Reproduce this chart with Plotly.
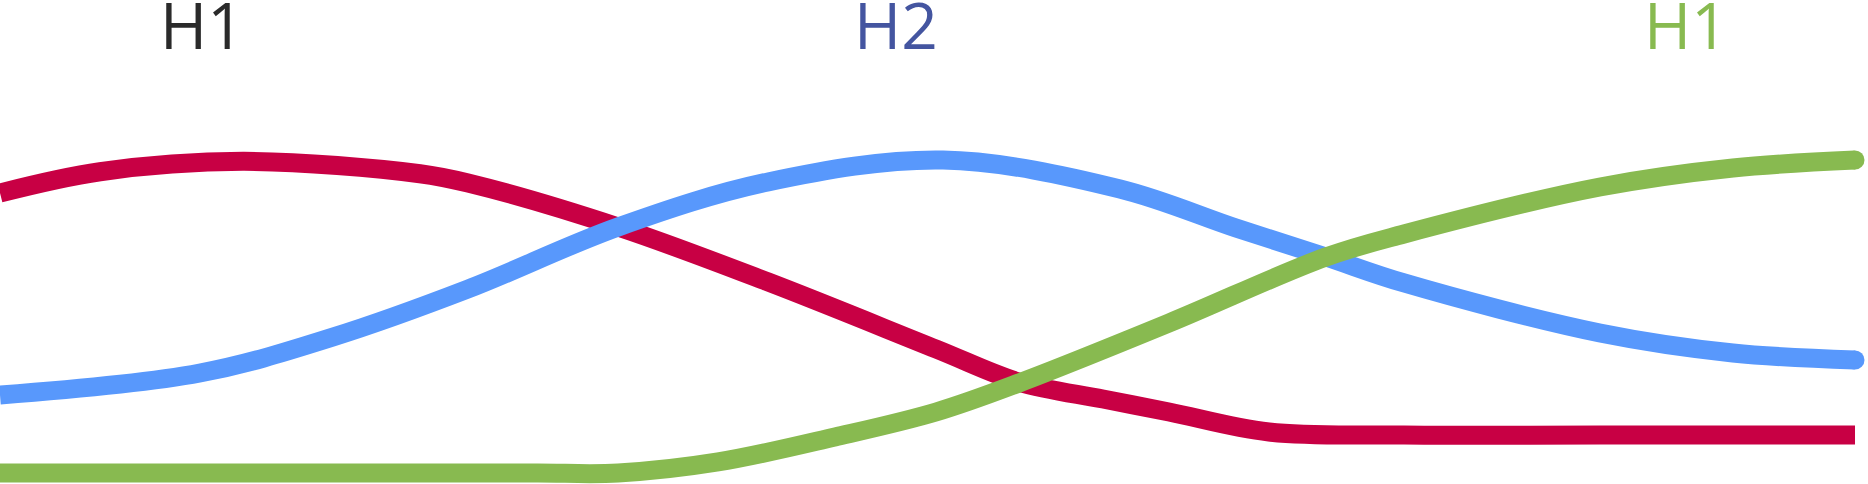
import plotly.graph_objects as go

# readings: position along the chart (0-100) and level (0-100, top = 100)
red_x = [0, 5.39, 13.10, 22.64, 25.23, 33.32, 41.40, 50.46, 54.93, 59.46, 63.02, 68.41, 75.69, 86.25, 100]
red_y = [60.12, 64.52, 66.67, 64.11, 62.19, 53.10, 41.74, 27.89, 21.07, 17.56, 14.88, 10.74, 10.12, 10.12, 10.12]

blue_x = [0, 10.78, 17.95, 25.23, 33.32, 41.40, 50.84, 60.38, 66.63, 71.48, 75.69, 86.25, 93.42, 100]
blue_y = [18.39, 22.93, 30.37, 40.29, 53.10, 62.40, 66.94, 60.95, 52.89, 46.90, 41.53, 31.20, 27.07, 25.62]

green_x = [0, 8.0, 16.0, 24.0, 29.0, 33.32, 38.71, 45.01, 50.46, 54.93, 63.02, 71.48, 75.69, 86.25, 93.42, 100]
green_y = [2.27, 2.27, 2.27, 2.27, 2.27, 2.27, 4.55, 9.71, 14.88, 20.87, 33.26, 46.90, 51.65, 61.36, 65.29, 66.94]

labels = ["H1", "H2", "H1"]
label_x = [10.9, 48.3, 90.9]
label_colors = ["#2a2a2a", "#4455a0", "#88ba50"]

RED = "#c80044"
BLUE = "#5898fc"
GREEN = "#88ba50"

fig = go.Figure()

fig.add_trace(go.Scatter(x=red_x, y=red_y, mode="lines",
                         line=dict(color=RED, width=19, shape="spline", smoothing=1)))
fig.add_trace(go.Scatter(x=blue_x, y=blue_y, mode="lines",
                         line=dict(color=BLUE, width=19, shape="spline", smoothing=1)))
fig.add_trace(go.Scatter(x=green_x, y=green_y, mode="lines",
                         line=dict(color=GREEN, width=19, shape="spline", smoothing=1)))

# round ends for blue and green
fig.add_trace(go.Scatter(x=[blue_x[-1], green_x[-1]], y=[blue_y[-1], green_y[-1]], mode="markers",
                         marker=dict(size=19, color=[BLUE, GREEN], line=dict(width=0)),
                         cliponaxis=False))

for t, lx, c in zip(labels, label_x, label_colors):
    fig.add_annotation(x=lx, y=1, xref="x", yref="paper", text=t, showarrow=False,
                       yanchor="top", xanchor="center", yshift=21,
                       font=dict(family="Open Sans", size=64, color=c))

fig.update_layout(
    width=1868, height=484,
    margin=dict(l=0, r=0, t=0, b=0),
    paper_bgcolor="white", plot_bgcolor="white",
    showlegend=False,
    xaxis=dict(visible=False, range=[0, 100.7], fixedrange=True),
    yaxis=dict(visible=False, range=[0, 100], fixedrange=True),
)

# page body margin would shift the chart by 8px
fig.write_html("out.html", config={"displayModeBar": False},
               post_script="document.body.style.margin='0';")
